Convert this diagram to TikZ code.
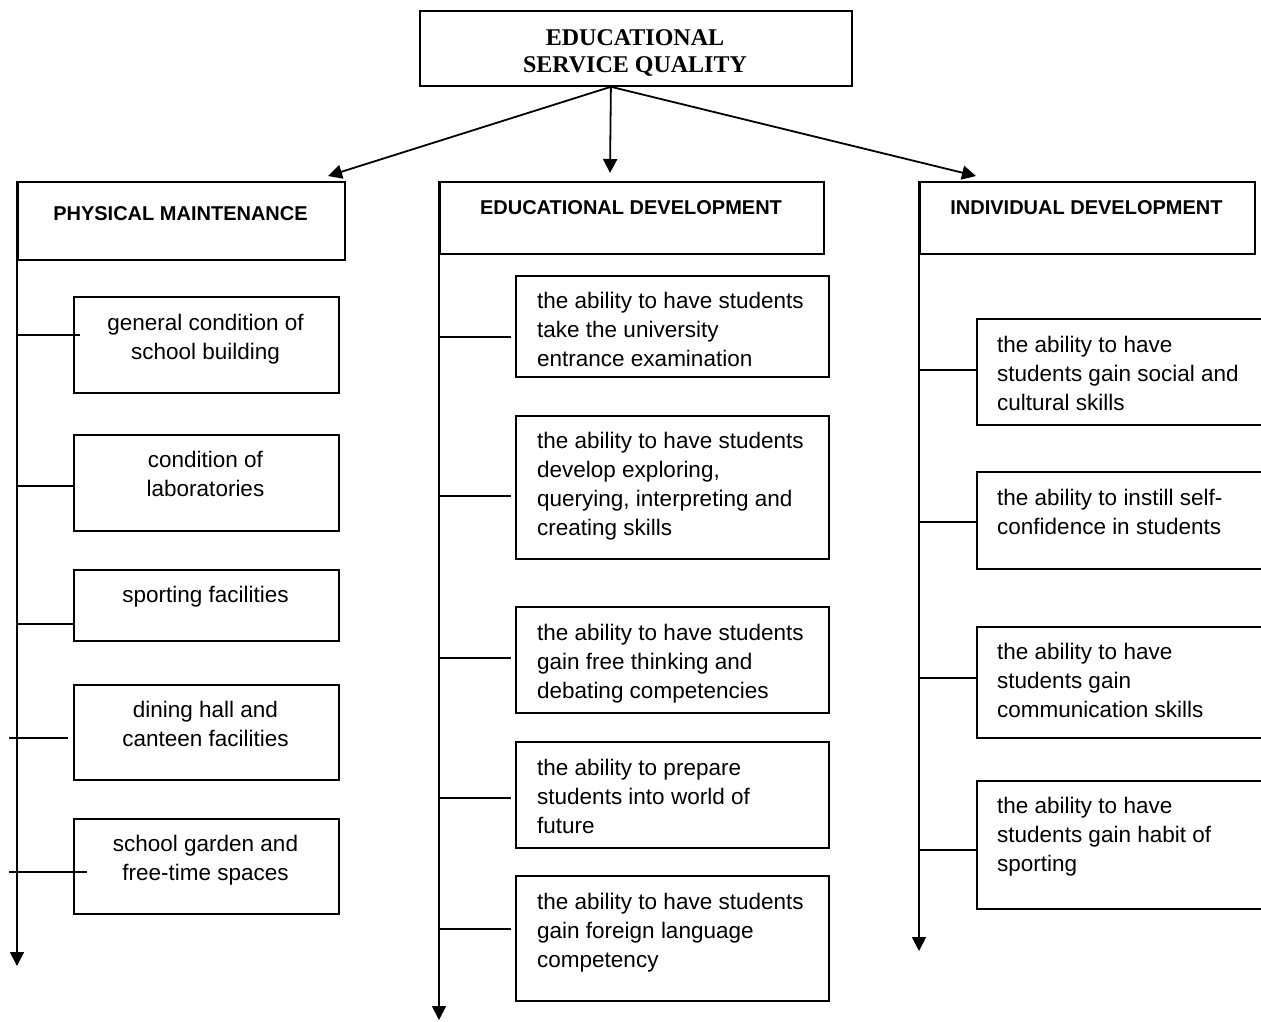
\documentclass[tikz,border=0pt]{standalone}
\usepackage{fontspec}
\setmainfont{Liberation Sans}
\newfontfamily\tnr{Liberation Serif}
\usetikzlibrary{arrows.meta}
\begin{document}
\begin{tikzpicture}[x=1pt,y=-1pt,
  box/.style={draw, line width=1.8pt, rectangle, inner sep=0pt, anchor=north west},
  txt/.style={inner sep=0pt, font=\fontsize{22.5}{29}\selectfont},
  hdr/.style={inner sep=0pt, anchor=base, font=\bfseries\fontsize{20}{24}\selectfont},
  ln/.style={line width=1.8pt},
  arr/.style={line width=1.8pt, -{Triangle[length=14pt,width=14pt]}}
]
\useasboundingbox (0,0) rectangle (1261,1021);
\clip (0,0) rectangle (1261,1021);

% top
\node[box, minimum width=432pt, minimum height=75pt] (top) at (419,10) {};
\node[inner sep=0pt, anchor=north, align=center, font=\tnr\bfseries\fontsize{24}{27}\selectfont]
  (toptxt) at (635,{45-18.9}) {\strut EDUCATIONAL\\SERVICE QUALITY};

% headers
\node[box, minimum width=327pt, minimum height=78pt] (pm) at (17,181) {};
\node[hdr] (pmtxt) at (180.5,220) {PHYSICAL MAINTENANCE};
\node[box, minimum width=384pt, minimum height=72pt] (ed) at (439,181) {};
\node[hdr] (edtxt) at (631,214) {EDUCATIONAL DEVELOPMENT};
\node[box, minimum width=335pt, minimum height=72pt] (id) at (919,181) {};
\node[hdr] (idtxt) at (1086.5,214) {INDIVIDUAL DEVELOPMENT};

% top arrows
\coordinate (src) at ([xshift=-25pt]top.south);
\coordinate (tipL) at (328,176);
\coordinate (tipM) at (610,173);
\coordinate (tipR) at (976,176);
\draw[arr] (src) -- (tipL);
\draw[arr] (src) -- (tipM);
\draw[arr] (src) -- (tipR);

% spines
\coordinate (endL) at (17,966);
\coordinate (endM) at (439,1020);
\coordinate (endR) at (919,951);
\draw[arr] (pm.north west) -- (endL);
\draw[arr] (ed.north west) -- (endM);
\draw[arr] (id.north west) -- (endR);

% left children
\node[box, minimum width=265pt, minimum height=96pt] (l1) at (73,296) {};
\node[box, minimum width=265pt, minimum height=96pt] (l2) at (73,434) {};
\node[box, minimum width=265pt, minimum height=71pt] (l3) at (73,569) {};
\node[box, minimum width=265pt, minimum height=95pt] (l4) at (73,684) {};
\node[box, minimum width=265pt, minimum height=95pt] (l5) at (73,818) {};
\node[txt, anchor=north, align=center] (l1t) at (205.5,{330-20.3}) {\strut general condition of\\school building};
\node[txt, anchor=north, align=center] (l2t) at (205.5,{467-20.3}) {\strut condition of\\laboratories};
\node[txt, anchor=north, align=center] (l3t) at (205.5,{602-20.3}) {\strut sporting facilities};
\node[txt, anchor=north, align=center] (l4t) at (205.5,{717-20.3}) {\strut dining hall and\\canteen facilities};
\node[txt, anchor=north, align=center] (l5t) at (205.5,{851-20.3}) {\strut school garden and\\free-time spaces};
\coordinate (sl1) at (17,335);
\coordinate (sl2) at (17,486);
\coordinate (sl3) at (17,624);
\coordinate (sl4) at (9,738);
\coordinate (sl5) at (9,872);
\draw[ln] (sl1) -- ([xshift=7pt]sl1 -| l1.west);
\draw[ln] (sl2) -- (sl2 -| l2.west);
\draw[ln] (sl3) -- (sl3 -| l3.west);
\draw[ln] (sl4) -- ([xshift=-5pt]sl4 -| l4.west);
\draw[ln] (sl5) -- ([xshift=14pt]sl5 -| l5.west);

% middle children
\node[box, minimum width=313pt, minimum height=101pt] (m1) at (515,275) {};
\node[box, minimum width=313pt, minimum height=143pt] (m2) at (515,415) {};
\node[box, minimum width=313pt, minimum height=106pt] (m3) at (515,606) {};
\node[box, minimum width=313pt, minimum height=106pt] (m4) at (515,741) {};
\node[box, minimum width=313pt, minimum height=125pt] (m5) at (515,875) {};
\node[txt, anchor=north west, align=left] (m1t) at (537,{308-20.3}) {\strut the ability to have students\\take the university\\entrance examination};
\node[txt, anchor=north west, align=left] (m2t) at (537,{448-20.3}) {\strut the ability to have students\\develop exploring,\\querying, interpreting and\\creating skills};
\node[txt, anchor=north west, align=left] (m3t) at (537,{640-20.3}) {\strut the ability to have students\\gain free thinking and\\debating competencies};
\node[txt, anchor=north west, align=left] (m4t) at (537,{775-20.3}) {\strut the ability to prepare\\students into world of\\future};
\node[txt, anchor=north west, align=left] (m5t) at (537,{909-20.3}) {\strut the ability to have students\\gain foreign language\\competency};
\coordinate (sm1) at (439,337);
\coordinate (sm2) at (439,496);
\coordinate (sm3) at (439,658);
\coordinate (sm4) at (439,798);
\coordinate (sm5) at (439,929);
\foreach \i in {1,...,5} {
  \draw[ln] (sm\i) -- ([xshift=-4pt]sm\i -| m\i.west);
}

% right children
\node[box, minimum width=300pt, minimum height=106pt] (r1) at (976,318) {};
\node[box, minimum width=300pt, minimum height=97pt] (r2) at (976,471) {};
\node[box, minimum width=300pt, minimum height=111pt] (r3) at (976,626) {};
\node[box, minimum width=300pt, minimum height=128pt] (r4) at (976,780) {};
\node[txt, anchor=north west, align=left] (r1t) at (997,{352-20.3}) {\strut the ability to have\\students gain social and\\cultural skills};
\node[txt, anchor=north west, align=left] (r2t) at (997,{505-20.3}) {\strut the ability to instill self-\\confidence in students};
\node[txt, anchor=north west, align=left] (r3t) at (997,{659-20.3}) {\strut the ability to have\\students gain\\communication skills};
\node[txt, anchor=north west, align=left] (r4t) at (997,{813-20.3}) {\strut the ability to have\\students gain habit of\\sporting};
\coordinate (sr1) at (919,370);
\coordinate (sr2) at (919,522);
\coordinate (sr3) at (919,678);
\coordinate (sr4) at (919,850);
\foreach \i in {1,...,4} {
  \draw[ln] (sr\i) -- (sr\i -| r\i.west);
}
\end{tikzpicture}
\end{document}
